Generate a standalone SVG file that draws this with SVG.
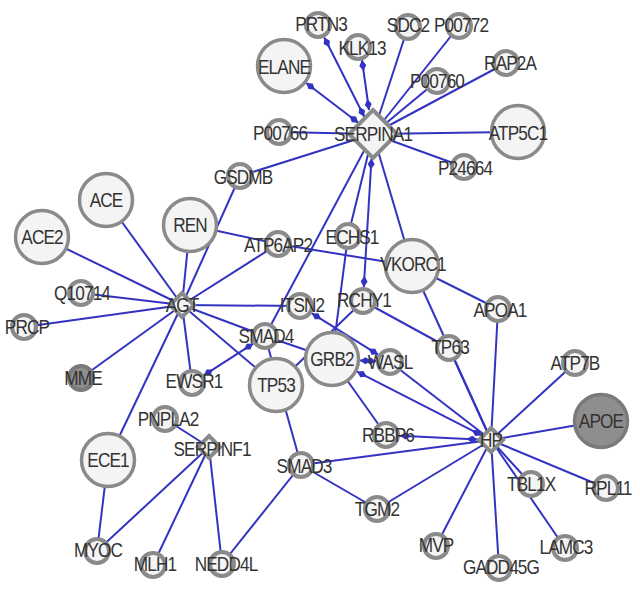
<svg xmlns="http://www.w3.org/2000/svg" width="640" height="591" viewBox="0 0 640 591">
<defs>
<style>
.n circle, .n polygon {fill:#f4f4f4; stroke:#8a8a8a; stroke-width:4}
.L circle {stroke-width:3.5}
.dk circle {fill:#8e8e8e; stroke:#7a7a7a}
text {font-family:"Liberation Sans", Arial, sans-serif; font-size:20px; letter-spacing:-1px; fill:#333; text-anchor:middle; transform-box:fill-box; transform-origin:center; transform:scaleX(0.86)}
#edges line {stroke:#3333c2; stroke-width:2}
</style>
<marker id="ds" markerUnits="userSpaceOnUse" viewBox="0 -4 11 8" refX="0" refY="0" markerWidth="11" markerHeight="8" orient="auto"><path d="M0,0 L5.5,-3.5 L11,0 L5.5,3.5z" fill="#3333c2"/></marker>
<marker id="de" markerUnits="userSpaceOnUse" viewBox="-11 -4 11 8" refX="0" refY="0" markerWidth="11" markerHeight="8" orient="auto"><path d="M0,0 L-5.5,-3.5 L-11,0 L-5.5,3.5z" fill="#3333c2"/></marker>
</defs>
<rect width="640" height="591" fill="#ffffff"/>
<g id="edges">
<line x1="373" y1="134" x2="408" y2="27"/>
<line x1="373" y1="134" x2="459" y2="26"/>
<line x1="373" y1="134" x2="506" y2="63"/>
<line x1="373" y1="134" x2="437" y2="81"/>
<line x1="373" y1="134" x2="279" y2="132"/>
<line x1="373" y1="134" x2="518" y2="132"/>
<line x1="373" y1="134" x2="464" y2="167"/>
<line x1="373" y1="134" x2="240" y2="176"/>
<line x1="373" y1="134" x2="265" y2="336"/>
<line x1="373" y1="134" x2="348" y2="236"/>
<line x1="373" y1="134" x2="412" y2="266"/>
<line x1="348" y1="236" x2="332" y2="359"/>
<line x1="182" y1="305" x2="106" y2="200"/>
<line x1="182" y1="305" x2="42" y2="237"/>
<line x1="182" y1="305" x2="190" y2="225"/>
<line x1="182" y1="305" x2="240" y2="176"/>
<line x1="182" y1="305" x2="278" y2="244"/>
<line x1="182" y1="305" x2="81" y2="293"/>
<line x1="182" y1="305" x2="24" y2="327"/>
<line x1="182" y1="305" x2="81" y2="378"/>
<line x1="182" y1="305" x2="192" y2="383"/>
<line x1="182" y1="305" x2="108" y2="460"/>
<line x1="182" y1="305" x2="300" y2="306"/>
<line x1="182" y1="305" x2="265" y2="336"/>
<line x1="182" y1="305" x2="276" y2="385"/>
<line x1="190" y1="225" x2="278" y2="244"/>
<line x1="278" y1="244" x2="412" y2="266"/>
<line x1="265" y1="336" x2="332" y2="359"/>
<line x1="265" y1="336" x2="301" y2="465"/>
<line x1="363" y1="301" x2="276" y2="385"/>
<line x1="363" y1="301" x2="449" y2="348"/>
<line x1="412" y1="266" x2="491" y2="440"/>
<line x1="449" y1="348" x2="491" y2="440"/>
<line x1="412" y1="266" x2="498" y2="309"/>
<line x1="498" y1="309" x2="491" y2="440"/>
<line x1="390" y1="362" x2="491" y2="440"/>
<line x1="332" y1="359" x2="386" y2="435"/>
<line x1="491" y1="440" x2="575" y2="363"/>
<line x1="491" y1="440" x2="601" y2="421"/>
<line x1="491" y1="440" x2="606" y2="488"/>
<line x1="491" y1="440" x2="531" y2="484"/>
<line x1="491" y1="440" x2="565" y2="548"/>
<line x1="491" y1="440" x2="436" y2="546"/>
<line x1="491" y1="440" x2="499" y2="568"/>
<line x1="491" y1="440" x2="301" y2="465"/>
<line x1="491" y1="440" x2="377" y2="509"/>
<line x1="301" y1="465" x2="377" y2="509"/>
<line x1="301" y1="465" x2="222" y2="564"/>
<line x1="209" y1="447" x2="165" y2="419"/>
<line x1="209" y1="447" x2="97" y2="551"/>
<line x1="209" y1="447" x2="153" y2="565"/>
<line x1="209" y1="447" x2="222" y2="564"/>
<line x1="108" y1="460" x2="97" y2="551"/>
<line x1="324.3" y1="37.5" x2="364.3" y2="116.7" marker-start="url(#ds)" marker-end="url(#de)"/>
<line x1="362" y1="60" x2="369" y2="110" marker-start="url(#ds)" marker-end="url(#de)"/>
<line x1="306.2" y1="83" x2="358.3" y2="122.7" marker-start="url(#ds)" marker-end="url(#de)"/>
<line x1="371.5" y1="158.6" x2="363.8" y2="287" marker-start="url(#ds)" marker-end="url(#de)"/>
<line x1="311.9" y1="313.4" x2="378.1" y2="354.6" marker-start="url(#ds)" marker-end="url(#de)"/>
<line x1="360" y1="360.4" x2="376" y2="361.3" marker-start="url(#ds)" marker-end="url(#de)"/>
<line x1="357" y1="371.7" x2="481.7" y2="435.3" marker-start="url(#ds)" marker-end="url(#de)"/>
<line x1="400" y1="435.7" x2="477.6" y2="439.4" marker-start="url(#ds)" marker-end="url(#de)"/>
<line x1="253.2" y1="343.6" x2="203.8" y2="375.4" marker-start="url(#ds)" marker-end="url(#de)"/>
</g>
<g id="SERPINA1" class="n"><polygon points="373,110 397,134 373,158 349,134"/><text x="373" y="141">SERPINA1</text></g>
<g id="PRTN3" class="n"><circle cx="318" cy="25" r="12"/><text x="321" y="31">PRTN3</text></g>
<g id="KLK13" class="n"><circle cx="358" cy="47" r="12"/><text x="362" y="55">KLK13</text></g>
<g id="SDC2" class="n"><circle cx="408" cy="27" r="12"/><text x="408" y="32">SDC2</text></g>
<g id="P00772" class="n"><circle cx="459" cy="26" r="12"/><text x="461" y="32">P00772</text></g>
<g id="ELANE" class="n L"><circle cx="284" cy="66" r="26.5"/><text x="284" y="74">ELANE</text></g>
<g id="RAP2A" class="n"><circle cx="506" cy="63" r="12"/><text x="510" y="70">RAP2A</text></g>
<g id="P00760" class="n"><circle cx="437" cy="81" r="12"/><text x="437" y="88">P00760</text></g>
<g id="P00766" class="n"><circle cx="279" cy="132" r="12"/><text x="280" y="140">P00766</text></g>
<g id="ATP5C1" class="n L"><circle cx="518" cy="132" r="26.5"/><text x="518" y="140">ATP5C1</text></g>
<g id="P24664" class="n"><circle cx="464" cy="167" r="12"/><text x="465" y="175">P24664</text></g>
<g id="GSDMB" class="n"><circle cx="240" cy="176" r="12"/><text x="243" y="184">GSDMB</text></g>
<g id="ACE" class="n L"><circle cx="106" cy="200" r="26.5"/><text x="106" y="207">ACE</text></g>
<g id="ACE2" class="n L"><circle cx="42" cy="237" r="26.5"/><text x="42" y="244">ACE2</text></g>
<g id="REN" class="n L"><circle cx="190" cy="225" r="26.5"/><text x="190" y="232">REN</text></g>
<g id="ATP6AP2" class="n"><circle cx="278" cy="244" r="12"/><text x="278" y="252">ATP6AP2</text></g>
<g id="Q10714" class="n"><circle cx="81" cy="293" r="12"/><text x="82" y="300">Q10714</text></g>
<g id="AGT" class="n"><polygon points="182,293 194,305 182,317 170,305"/><text x="182" y="312">AGT</text></g>
<g id="PRCP" class="n"><circle cx="24" cy="327" r="12"/><text x="27" y="334">PRCP</text></g>
<g id="MME" class="n dk"><circle cx="81" cy="378" r="12"/><text x="83" y="385">MME</text></g>
<g id="EWSR1" class="n"><circle cx="192" cy="383" r="12"/><text x="194" y="388">EWSR1</text></g>
<g id="ITSN2" class="n"><circle cx="300" cy="306" r="12"/><text x="302" y="312">ITSN2</text></g>
<g id="SMAD4" class="n"><circle cx="265" cy="336" r="12"/><text x="266" y="343">SMAD4</text></g>
<g id="TP53" class="n L"><circle cx="276" cy="385" r="26.5"/><text x="276" y="392">TP53</text></g>
<g id="GRB2" class="n L"><circle cx="332" cy="359" r="26.5"/><text x="332" y="366">GRB2</text></g>
<g id="WASL" class="n"><circle cx="390" cy="362" r="12"/><text x="390" y="369">WASL</text></g>
<g id="RCHY1" class="n"><circle cx="363" cy="301" r="12"/><text x="364" y="307">RCHY1</text></g>
<g id="ECHS1" class="n"><circle cx="348" cy="236" r="12"/><text x="352" y="244">ECHS1</text></g>
<g id="VKORC1" class="n L"><circle cx="412" cy="266" r="26.5"/><text x="413" y="271">VKORC1</text></g>
<g id="APOA1" class="n"><circle cx="498" cy="309" r="12"/><text x="500" y="317">APOA1</text></g>
<g id="TP63" class="n"><circle cx="449" cy="348" r="12"/><text x="450" y="354">TP63</text></g>
<g id="ATP7B" class="n"><circle cx="575" cy="363" r="12"/><text x="575" y="370">ATP7B</text></g>
<g id="HP" class="n"><polygon points="491,428 503,440 491,452 479,440"/><text x="491" y="447">HP</text></g>
<g id="APOE" class="n L dk"><circle cx="601" cy="421" r="26.5"/><text x="601" y="428">APOE</text></g>
<g id="RBBP6" class="n"><circle cx="386" cy="435" r="12"/><text x="388" y="442">RBBP6</text></g>
<g id="SMAD3" class="n"><circle cx="301" cy="465" r="12"/><text x="304" y="473">SMAD3</text></g>
<g id="TGM2" class="n"><circle cx="377" cy="509" r="12"/><text x="377" y="516">TGM2</text></g>
<g id="TBL1X" class="n"><circle cx="531" cy="484" r="12"/><text x="531" y="491">TBL1X</text></g>
<g id="RPL11" class="n"><circle cx="606" cy="488" r="12"/><text x="608" y="495">RPL11</text></g>
<g id="MVP" class="n"><circle cx="436" cy="546" r="12"/><text x="436" y="552">MVP</text></g>
<g id="GADD45G" class="n"><circle cx="499" cy="568" r="12"/><text x="501" y="574">GADD45G</text></g>
<g id="LAMC3" class="n"><circle cx="565" cy="548" r="12"/><text x="566" y="554">LAMC3</text></g>
<g id="PNPLA2" class="n"><circle cx="165" cy="419" r="12"/><text x="168" y="426">PNPLA2</text></g>
<g id="SERPINF1" class="n"><polygon points="209,436 220,447 209,458 198,447"/><text x="212" y="456">SERPINF1</text></g>
<g id="ECE1" class="n L"><circle cx="108" cy="460" r="26.5"/><text x="108" y="467">ECE1</text></g>
<g id="MYOC" class="n"><circle cx="97" cy="551" r="12"/><text x="98" y="557">MYOC</text></g>
<g id="MLH1" class="n"><circle cx="153" cy="565" r="12"/><text x="155" y="571">MLH1</text></g>
<g id="NEDD4L" class="n"><circle cx="222" cy="564" r="12"/><text x="226" y="571">NEDD4L</text></g>
</svg>
